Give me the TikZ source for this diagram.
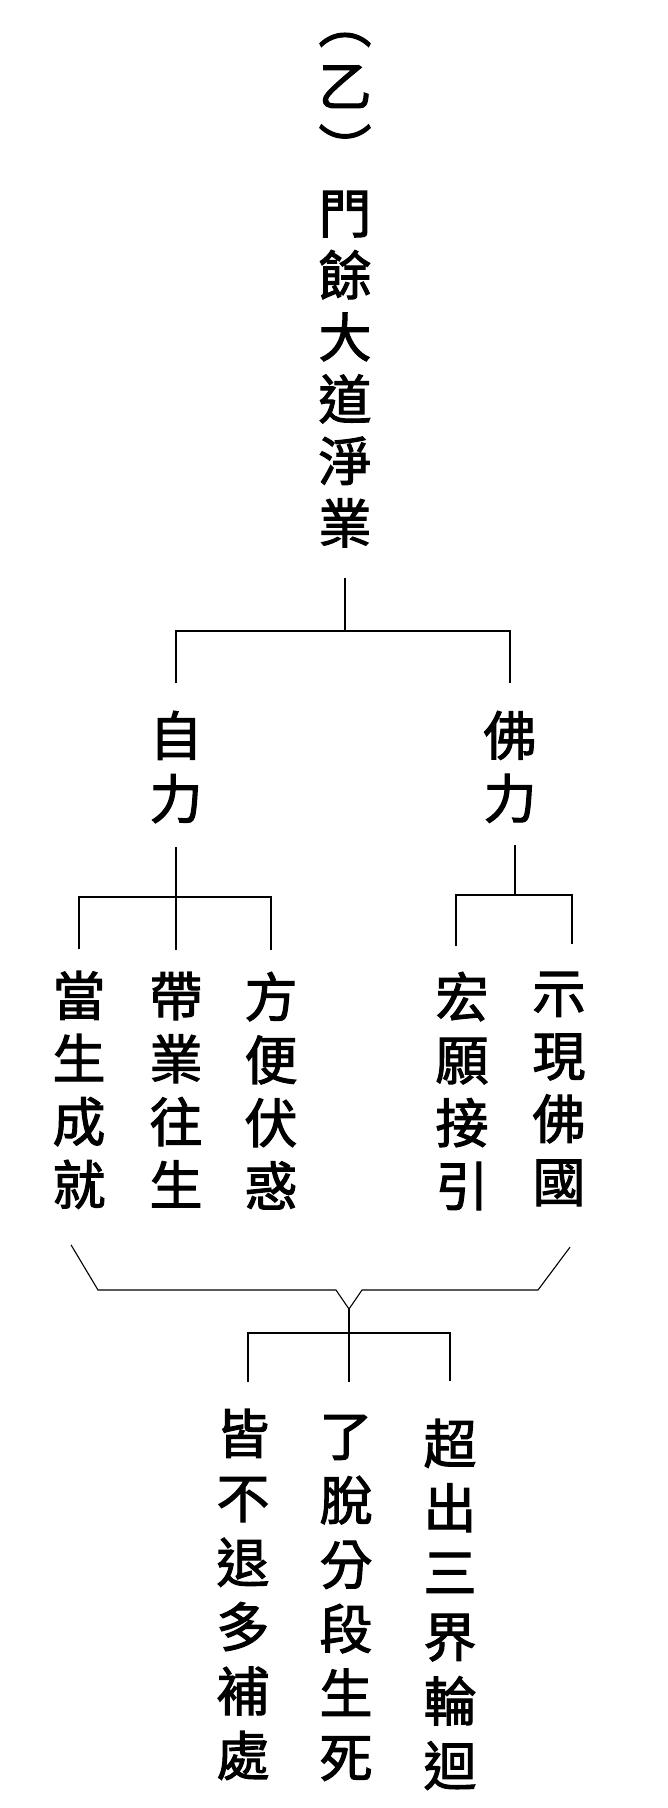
\documentclass[tikz,border=0pt]{standalone}
\usepackage{fontspec}
\newfontfamily\cjk[FakeBold=2]{Noto Sans CJK TC}
\begin{document}
\begin{tikzpicture}[x=1pt,y=-1pt,
  conn/.style={line width=1.1pt, black},
  col/.style={font=\cjk\fontsize{53}{63}\selectfont, align=center, inner sep=0pt, outer sep=0pt, anchor=north}]
\useasboundingbox (0,0) rectangle (668,1808);
\fill[white] (0,0) rectangle (668,1808);
% nodes
\node[col] (paren) at (345,33) {︵\\乙\\︶};
\node[col, font=\cjk\fontsize{53}{62}\selectfont] (title) at (345,191) {門\\餘\\大\\道\\淨\\業};
\node[col] (zili) at (176,711) {自\\力};
\node[col] (foli) at (510,711) {佛\\力};
\node[col] (c1) at (79,971) {當\\生\\成\\就};
\node[col] (c2) at (176,972) {帶\\業\\往\\生};
\node[col] (c3) at (271,972) {方\\便\\伏\\惑};
\node[col] (c4) at (462,972) {宏\\願\\接\\引};
\node[col] (c5) at (559,972) {示\\現\\佛\\國};
\node[col, font=\cjk\fontsize{53}{64.4}\selectfont] (d1) at (243,1409) {皆\\不\\退\\多\\補\\處};
\node[col, font=\cjk\fontsize{53}{64.4}\selectfont] (d2) at (346,1415) {了\\脫\\分\\段\\生\\死};
\node[col, font=\cjk\fontsize{53}{64.4}\selectfont] (d3) at (450,1419) {超\\出\\三\\界\\輪\\迴};
% junctions
\coordinate (j1) at (345,631);
\coordinate (j2) at (176,897);
\coordinate (j2r) at (515,895);
\coordinate (j3) at (349,1309);
\coordinate (j4) at (349,1333);
% level 1
\draw[conn] ([yshift=-31pt]title.south) -- (j1);
\draw[conn] ([yshift=28pt]zili.north) |- (j1) -| ([yshift=28pt]foli.north);
% level 2 left
\draw[conn] ([yshift=-24pt]zili.south) -- (j2);
\draw[conn] ([yshift=22pt]c1.north) |- (j2) -| ([yshift=22pt]c3.north);
\draw[conn] ([yshift=22pt]c2.north) -- (j2);
% level 2 right
\draw[conn] ([xshift=5pt,yshift=-22pt]foli.south) -- (j2r);
\draw[conn] ([xshift=-6pt,yshift=26pt]c4.north) |- (j2r) -| ([xshift=13pt,yshift=28pt]c5.north);
% bottom bracket
\coordinate (bL) at ([xshift=-8pt,yshift=-36pt]c1.south);
\coordinate (bR) at ([xshift=11pt,yshift=-41pt]c5.south);
\draw[conn] (bL) -- (98,1290) -- (336,1290) -- (j3) -- (362,1290) -- (538,1290) -- (bR);
\draw[conn] (j3) -- ([yshift=33pt]d2.north -| j3);
\draw[conn] ([xshift=5pt,yshift=27pt]d1.north) |- (j4) -| ([yshift=38pt]d3.north);
\end{tikzpicture}
\end{document}
